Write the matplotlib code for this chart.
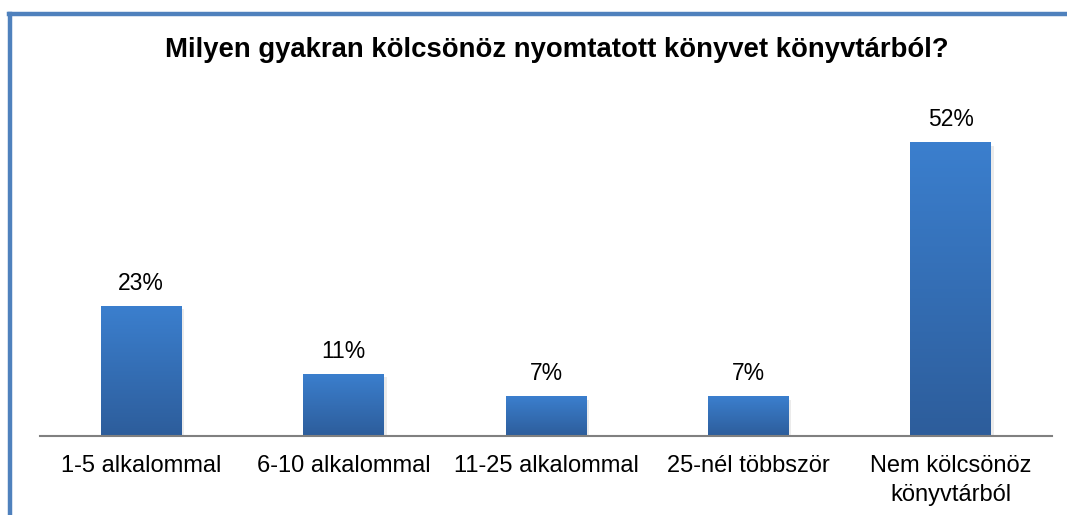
import numpy as np
import matplotlib
matplotlib.use("Agg")
import matplotlib.pyplot as plt
from matplotlib.lines import Line2D
from matplotlib.colors import LinearSegmentedColormap

plt.rcParams['font.family'] = ['Liberation Sans', 'DejaVu Sans']

title = "Milyen gyakran kölcsönöz nyomtatott könyvet könyvtárból?"
categories = ["1-5 alkalommal", "6-10 alkalommal", "11-25 alkalommal",
              "25-nél többször", "Nem kölcsönöz\nkönyvtárból"]
values = [23, 11, 7, 7, 52]

W, H = 1067, 515
fig = plt.figure(figsize=(W / 100, H / 100), dpi=100)
ax = fig.add_axes([40 / W, (H - 436) / H, 1012 / W, (436 - 97) / H])

x = np.arange(len(values))
bar_w = 0.4
bars = ax.bar(x, values, width=bar_w, color='none', zorder=3)

# vertical gradient fill for each bar
cmap = LinearSegmentedColormap.from_list("bargrad", ["#2d5d9b", "#3b7fce"])
grad = np.linspace(0, 1, 256).reshape(-1, 1)
for b in bars:
    x0, w, h = b.get_x(), b.get_width(), b.get_height()
    # soft shadow
    ax.bar(x0 + w / 2 + 0.012, h, width=w, bottom=-0.6, color='#000000', alpha=0.08, zorder=2)
    im = ax.imshow(grad, cmap=cmap, aspect='auto', origin='lower',
                   extent=[x0, x0 + w, 0, h], zorder=3)
    im.set_clip_path(b)

for xi, v in zip(x, values):
    ax.text(xi, v + 2.0, f"{v}%", ha='center', va='bottom', fontsize=16.5)

ax.set_xlim(-0.5, len(values) - 0.5)
ax.set_ylim(0, 60)
ax.set_xticks(x)
ax.set_xticklabels(categories, fontsize=17, linespacing=1.4)
ax.tick_params(axis='x', length=0, pad=14)
ax.set_yticks([])
for s in ['left', 'right', 'top']:
    ax.spines[s].set_visible(False)
ax.spines['bottom'].set_color('#808080')
ax.spines['bottom'].set_linewidth(1.5)
ax.spines['bottom'].set_zorder(4)

fig.text(557 / W, (H - 50) / H, title, ha='center', va='center',
         fontsize=19.8, fontweight='bold')

# chart frame (left and top edge visible)
fig.add_artist(Line2D([10 / W, 10 / W], [0, (H - 14) / H], color='#4f81bd', lw=3.2))
fig.add_artist(Line2D([8.5 / W, 1], [(H - 14) / H, (H - 14) / H], color='#4f81bd', lw=3.2))

fig.savefig("out.png", dpi=100)
